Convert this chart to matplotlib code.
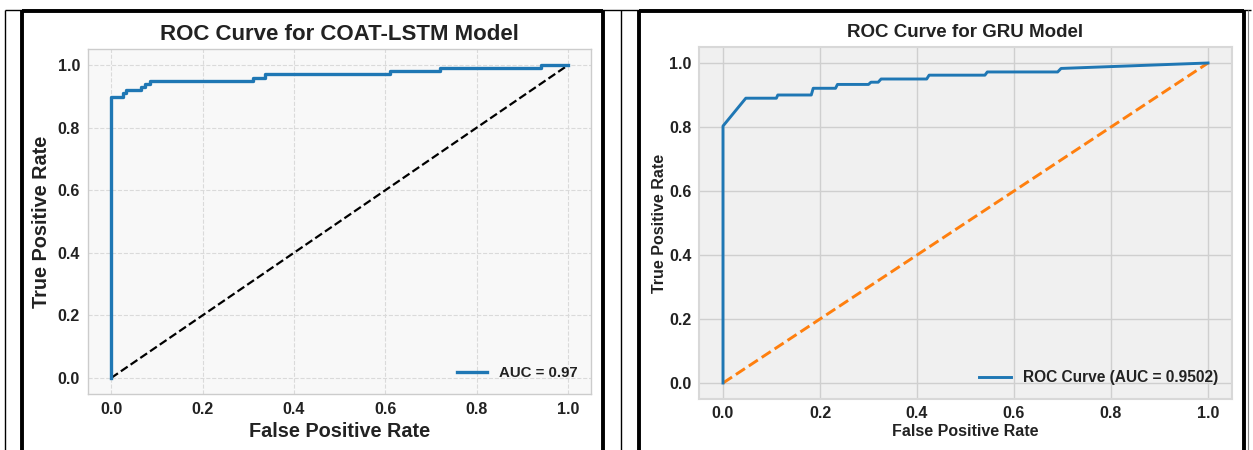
import matplotlib
matplotlib.use("Agg")
import matplotlib.pyplot as plt
from matplotlib.lines import Line2D

plt.rcParams['font.family'] = ['Liberation Sans', 'DejaVu Sans']

# ---------------- data ----------------
lstm_title = "ROC Curve for COAT-LSTM Model"
lstm_fpr = [0.0, 0.0, 0.025, 0.032, 0.065, 0.075, 0.085, 0.31, 0.337, 0.61, 0.72, 0.94, 1.0]
lstm_tpr = [0.0, 0.899, 0.91, 0.92, 0.93, 0.94, 0.95, 0.96, 0.972, 0.981, 0.99, 1.0, 1.0]
lstm_auc_label = "AUC = 0.97"

gru_title = "ROC Curve for GRU Model"
gru_fpr = [0.0, 0.0, 0.047, 0.110, 0.113, 0.182, 0.186, 0.232, 0.236, 0.300,
           0.305, 0.320, 0.326, 0.420, 0.425, 0.540, 0.545, 0.690, 0.697, 1.0]
gru_tpr = [0.0, 0.803, 0.89, 0.89, 0.90, 0.90, 0.921, 0.921, 0.933, 0.933,
           0.94, 0.94, 0.95, 0.95, 0.962, 0.962, 0.972, 0.972, 0.983, 1.0]
gru_auc_label = "ROC Curve (AUC = 0.9502)"

diag = [0.0, 1.0]
ticks = [0.0, 0.2, 0.4, 0.6, 0.8, 1.0]
tick_labels = ["0.0", "0.2", "0.4", "0.6", "0.8", "1.0"]

W, H = 1253, 450
fig = plt.figure(figsize=(W / 100, H / 100), dpi=100)
fig.patch.set_facecolor('white')


def ax_rect(x0, x1, y0, y1):
    return [x0 / W, 1 - y1 / H, (x1 - x0) / W, (y1 - y0) / H]


def fl(x0, y0, x1, y1, lw, color='black'):
    fig.add_artist(Line2D([x0 / W, x1 / W], [1 - y0 / H, 1 - y1 / H],
                          transform=fig.transFigure, color=color, lw=lw,
                          solid_capstyle='butt'))


# table borders
fl(5, 9.5, 1251, 9.5, 1.0)
fl(5, 9.5, 5, 450, 1.0)
fl(621, 9.5, 621, 450, 1.0)
fl(1248, 9.5, 1248, 450, 0.8, '#888888')
# thick boxes
for (xa, xb) in [(20, 604), (637, 1245)]:
    fl(xa + 1.5, 11, xb - 1.5, 11, 2.8)
    fl(xa + 1.5, 9.5, xa + 1.5, 450, 2.8)
    fl(xb - 1.5, 9.5, xb - 1.5, 450, 2.8)

TXT = '#222222'

# ---------------- left panel ----------------
ax1 = fig.add_axes(ax_rect(88.3, 591, 49.4, 393.6))
ax1.set_facecolor('#f8f8f8')
ax1.plot(lstm_fpr, lstm_tpr, drawstyle='steps-post', color='#1f77b4', lw=2.4,
         label=lstm_auc_label, zorder=3)
ax1.plot(diag, diag, color='black', ls='--', lw=1.6, zorder=2)
ax1.set_xlim(-0.05, 1.05)
ax1.set_ylim(-0.05, 1.05)
ax1.set_xticks(ticks)
ax1.set_xticklabels(tick_labels)
ax1.set_yticks(ticks)
ax1.set_yticklabels(tick_labels)
ax1.grid(True, ls='--', color='#dadada', lw=0.8)
ax1.set_axisbelow(True)
for s in ax1.spines.values():
    s.set_color('#cccccc')
    s.set_linewidth(1.0)
ax1.tick_params(length=0, pad=6, labelsize=11.5, labelcolor=TXT)
for lab in ax1.get_xticklabels() + ax1.get_yticklabels():
    lab.set_fontweight('bold')
ax1.set_title(lstm_title, fontsize=16, fontweight='bold', color=TXT, pad=7)
ax1.set_xlabel("False Positive Rate", fontsize=14.3, fontweight='bold', color=TXT, labelpad=4)
ax1.set_ylabel("True Positive Rate", fontsize=14.3, fontweight='bold', color=TXT, labelpad=5)
leg1 = ax1.legend(loc='lower right', frameon=False, prop={'weight': 'bold', 'size': 10.8})
for t in leg1.get_texts():
    t.set_color(TXT)

# ---------------- right panel ----------------
ax2 = fig.add_axes(ax_rect(698.75, 1232.25, 47, 399))
ax2.set_facecolor('#f0f0f0')
ax2.plot(gru_fpr, gru_tpr, color='#1f77b4', lw=2.1, label=gru_auc_label, zorder=3)
ax2.plot(diag, diag, color='#ff7f0e', ls='--', lw=2.1, zorder=2)
ax2.set_xlim(-0.05, 1.05)
ax2.set_ylim(-0.05, 1.05)
ax2.set_xticks(ticks)
ax2.set_xticklabels(tick_labels)
ax2.set_yticks(ticks)
ax2.set_yticklabels(tick_labels)
ax2.grid(True, ls='-', color='#cfcfcf', lw=1.0)
ax2.set_axisbelow(True)
for s in ax2.spines.values():
    s.set_color('#d8d8d8')
    s.set_linewidth(1.5)
ax2.tick_params(length=0, pad=5, labelsize=11.5, labelcolor=TXT)
for lab in ax2.get_xticklabels() + ax2.get_yticklabels():
    lab.set_fontweight('bold')
ax2.set_title(gru_title, fontsize=13.5, fontweight='bold', color=TXT, pad=7)
ax2.set_xlabel("False Positive Rate", fontsize=11.5, fontweight='bold', color=TXT, labelpad=2)
ax2.set_ylabel("True Positive Rate", fontsize=11.5, fontweight='bold', color=TXT, labelpad=2)
leg2 = ax2.legend(loc='lower right', frameon=False, prop={'weight': 'bold', 'size': 11.2})
for t in leg2.get_texts():
    t.set_color(TXT)

fig.savefig('out.png', dpi=100, facecolor='white')
